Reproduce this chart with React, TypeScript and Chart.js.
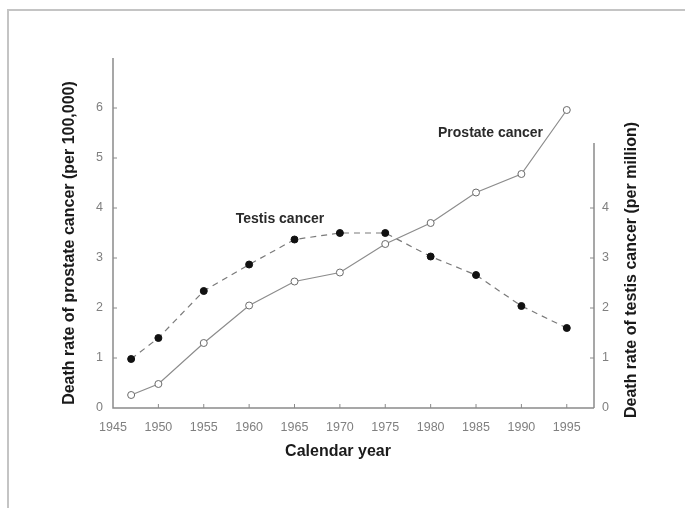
import React, { useEffect, useRef } from "react";
import { Chart, registerables } from "chart.js";

Chart.register(...registerables);

const years = [1947, 1950, 1955, 1960, 1965, 1970, 1975, 1980, 1985, 1990, 1995];
const prostateRates = [0.26, 0.48, 1.3, 2.05, 2.53, 2.71, 3.28, 3.7, 4.31, 4.68, 5.96];
const testisRates = [0.98, 1.4, 2.34, 2.87, 3.37, 3.5, 3.5, 3.03, 2.66, 2.04, 1.6];

const xTickLabels = ["1945", "1950", "1955", "1960", "1965", "1970", "1975", "1980", "1985", "1990", "1995"];
const leftTickLabels = ["0", "1", "2", "3", "4", "5", "6"];
const rightTickLabels = ["0", "1", "2", "3", "4"];

const X_MIN = 1945;
const X_MAX = 1998;
const Y_MAX = 7;
const RIGHT_AXIS_TOP = 5.3;

const leftTitle = "Death rate of prostate cancer (per 100,000)";
const rightTitle = "Death rate of testis cancer (per million)";
const xTitle = "Calendar year";
const testisLabel = { text: "Testis cancer", x: 1963.4, y: 3.78 };
const prostateLabel = { text: "Prostate cancer", x: 1986.6, y: 5.5 };

const AXIS_COLOR = "#8a8a8a";
const TICK_COLOR = "#808080";
const TITLE_FONT = "bold 16px 'Liberation Sans', Arial, sans-serif";
const LABEL_FONT = "bold 14px 'Liberation Sans', Arial, sans-serif";

const decorPlugin = {
  id: "decor",
  afterDraw(chart: any) {
    const ctx = chart.ctx;
    const { left, right, top, bottom } = chart.chartArea;
    const xs = chart.scales.x;
    const yl = chart.scales.y;
    const yr = chart.scales.y2;
    ctx.save();
    // frame
    ctx.strokeStyle = "#c4c4c4";
    ctx.lineWidth = 2;
    ctx.beginPath();
    ctx.moveTo(8, 508);
    ctx.lineTo(8, 10);
    ctx.lineTo(685, 10);
    ctx.stroke();

    // axes
    ctx.strokeStyle = AXIS_COLOR;
    ctx.lineWidth = 1.5;
    ctx.beginPath();
    ctx.moveTo(left, top);
    ctx.lineTo(left, bottom);
    ctx.lineTo(right, bottom);
    ctx.moveTo(right, bottom);
    ctx.lineTo(right, yr.getPixelForValue(RIGHT_AXIS_TOP));
    ctx.stroke();

    // inside ticks
    ctx.lineWidth = 1;
    ctx.beginPath();
    xTickLabels.forEach((t) => {
      const v = Number(t);
      if (v === X_MIN) return;
      const px = xs.getPixelForValue(v);
      ctx.moveTo(px, bottom);
      ctx.lineTo(px, bottom - 4);
    });
    leftTickLabels.forEach((t) => {
      const v = Number(t);
      if (v === 0) return;
      const py = yl.getPixelForValue(v);
      ctx.moveTo(left, py);
      ctx.lineTo(left + 4, py);
    });
    rightTickLabels.forEach((t) => {
      const v = Number(t);
      if (v === 0) return;
      const py = yr.getPixelForValue(v);
      ctx.moveTo(right, py);
      ctx.lineTo(right - 4, py);
    });
    ctx.stroke();

    // series labels
    ctx.fillStyle = "#2a2a2a";
    ctx.font = LABEL_FONT;
    ctx.textAlign = "center";
    ctx.textBaseline = "middle";
    ctx.fillText(testisLabel.text, xs.getPixelForValue(testisLabel.x), yr.getPixelForValue(testisLabel.y));
    ctx.fillText(prostateLabel.text, xs.getPixelForValue(prostateLabel.x), yl.getPixelForValue(prostateLabel.y));

    // axis titles
    ctx.fillStyle = "#1a1a1a";
    ctx.font = TITLE_FONT;
    ctx.fillText(xTitle, 338, 452);

    ctx.save();
    ctx.translate(70, 243);
    ctx.rotate(-Math.PI / 2);
    ctx.fillText(leftTitle, 0, 0);
    ctx.restore();

    ctx.save();
    ctx.translate(632, 270);
    ctx.rotate(-Math.PI / 2);
    ctx.fillText(rightTitle, 0, 0);
    ctx.restore();

    ctx.restore();
  },
};

export default function App() {
  const ref = useRef<HTMLCanvasElement | null>(null);
  useEffect(() => {
    if (!ref.current) return;
    const tickFont = { family: "'Liberation Sans', Arial, sans-serif", size: 12.5 };
    const chart = new Chart(ref.current, {
      type: "line",
      data: {
        datasets: [
          {
            label: "Prostate cancer",
            data: years.map((y, i) => ({ x: y, y: prostateRates[i] })),
            borderColor: "#8c8c8c",
            borderWidth: 1.2,
            pointRadius: 3.5,
            pointBackgroundColor: "#ffffff",
            pointBorderColor: "#6a6a6a",
            pointBorderWidth: 1,
            yAxisID: "y",
            tension: 0,
          },
          {
            label: "Testis cancer",
            data: years.map((y, i) => ({ x: y, y: testisRates[i] })),
            borderColor: "#7a7a7a",
            borderWidth: 1.2,
            borderDash: [6, 5],
            pointRadius: 3.5,
            pointBackgroundColor: "#111111",
            pointBorderColor: "#111111",
            pointBorderWidth: 1,
            yAxisID: "y2",
            tension: 0,
          },
        ],
      },
      options: {
        animation: false,
        responsive: false,
        maintainAspectRatio: false,
        layout: { padding: { top: 58, left: 0, right: 0, bottom: 0 } },
        plugins: { legend: { display: false }, tooltip: { enabled: false } },
        scales: {
          x: {
            type: "linear",
            min: X_MIN,
            max: X_MAX,
            grid: { display: false, drawTicks: false },
            border: { display: false },
            afterBuildTicks: (s: any) => {
              s.ticks = xTickLabels.map((t) => ({ value: Number(t) }));
            },
            ticks: {
              padding: 12,
              maxRotation: 0,
              autoSkip: false,
              color: TICK_COLOR,
              font: tickFont,
              callback: (v: any) => String(v),
            },
            afterFit: (s: any) => {
              s.height = 100;
            },
          },
          y: {
            position: "left",
            min: 0,
            max: Y_MAX,
            grid: { display: false, drawTicks: false },
            border: { display: false },
            afterBuildTicks: (s: any) => {
              s.ticks = leftTickLabels.map((t) => ({ value: Number(t) }));
            },
            ticks: {
              padding: 10,
              color: TICK_COLOR,
              font: tickFont,
              callback: (v: any) => String(v),
            },
            afterFit: (s: any) => {
              s.width = 113;
            },
          },
          y2: {
            position: "right",
            min: 0,
            max: Y_MAX,
            grid: { display: false, drawTicks: false },
            border: { display: false },
            afterBuildTicks: (s: any) => {
              s.ticks = rightTickLabels.map((t) => ({ value: Number(t) }));
            },
            ticks: {
              padding: 8,
              color: TICK_COLOR,
              font: tickFont,
              callback: (v: any) => String(v),
            },
            afterFit: (s: any) => {
              s.width = 91;
            },
          },
        },
      },
      plugins: [decorPlugin],
    });
    return () => chart.destroy();
  }, []);
  return (
    <div style={{ position: "fixed", left: 0, top: 0, width: 685, height: 508, background: "#fff" }}>
      <canvas ref={ref} width={685} height={508} style={{ display: "block", width: 685, height: 508 }} />
    </div>
  );
}
